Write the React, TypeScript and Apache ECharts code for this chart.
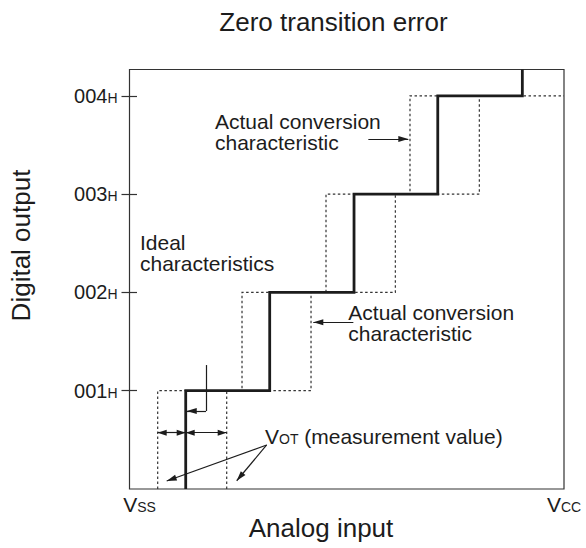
import React, { useEffect, useRef } from 'react';
import * as echarts from 'echarts';

// ---- texts ----
const TITLE = 'Zero transition error';
const X_AXIS_NAME = 'Analog input';
const Y_AXIS_NAME = 'Digital output';
const UPPER_NOTE = ['Actual conversion', 'characteristic'];
const IDEAL_NOTE = ['Ideal', 'characteristics'];
const LOWER_NOTE = ['Actual conversion', 'characteristic'];
const VOT_MAIN = 'V';
const VOT_SUB = 'OT';
const VOT_REST = ' (measurement value)';

// ---- axes ----
const Y_TICK_VALUES = [1, 2, 3, 4];
const Y_TICK_LABELS = ['001', '002', '003', '004'];
const Y_TICK_SUFFIX = 'H';
const X_LABEL_VALUES = [0, 5.163];
const X_LABEL_MAIN = ['V', 'V'];
const X_LABEL_SUB = ['SS', 'CC'];
const X_MAX = 5.163;
const Y_MAX = 4.268;

// ---- staircases (x position of each code transition, in LSB) ----
const ACTUAL_STEPS = [0.668, 1.666, 2.668, 3.663, 4.668];
const LEFT_DOTTED_STEPS = [0.335, 1.337, 2.335, 3.333];
const LEFT_DOTTED_END = 4.668;
const RIGHT_DOTTED_STEPS = [1.155, 2.157, 3.159, 4.157];
const RIGHT_DOTTED_END = 5.163;

// ---- annotation arrows (data coordinates) ----
const ARROW_UPPER = [[2.838, 3.561], [3.313, 3.561]];
const ARROW_LOWER = [[2.66, 1.696], [2.184, 1.696]];
const VOT_ARROWS = [
  [[1.63, 0.448], [0.442, 0.081]],
  [[1.63, 0.448], [1.274, 0.084]],
];
const L_ARROW = [[0.909, 1.261], [0.909, 0.793], [0.68, 0.793]];
const DIM_ARROWS = [
  [[0.335, 0.573], [0.668, 0.573]],
  [[0.668, 0.573], [1.155, 0.573]],
];

const INK = '#1c1c1c';
const FONT = '"Liberation Sans", Arial, Helvetica, sans-serif';

function stair(steps: number[], endX: number | null, topY: number) {
  const pts: number[][] = [];
  steps.forEach((x, i) => {
    pts.push([x, i]);
    pts.push([x, Math.min(i + 1, topY)]);
  });
  if (endX != null) pts.push([endX, steps.length]);
  return pts;
}

export default function App() {
  const ref = useRef<HTMLDivElement>(null);
  useEffect(() => {
    if (!ref.current) return;
    const chart = echarts.init(ref.current, undefined, { renderer: 'svg' });
    const tail = (c: number[]) => ({ coord: c, symbol: 'none' });
    const head = (c: number[]) => ({
      coord: c,
      symbol: 'triangle',
      symbolSize: [6, 10],
      symbolOffset: [0, 5],
    });
    const dimHead = (c: number[]) => ({
      coord: c,
      symbol: 'triangle',
      symbolSize: [6, 9],
      symbolOffset: [0, 4.5],
    });
    const option: any = {
      animation: false,
      backgroundColor: '#ffffff',
      grid: {
        left: 129.5,
        right: 22,
        top: 69.5,
        bottom: 59,
        show: true,
        borderColor: '#333',
        borderWidth: 1.2,
        containLabel: false,
      },
      xAxis: {
        type: 'value',
        min: 0,
        max: X_MAX,
        axisLine: { show: false },
        axisTick: { show: false },
        splitLine: { show: false },
        axisLabel: {
          customValues: X_LABEL_VALUES,
          margin: 5,
          formatter: (v: number) => {
            const i = X_LABEL_VALUES.indexOf(v);
            const pad = i === 0 ? '{pad| }' : '';
            return `${pad}{v|${X_LABEL_MAIN[i]}}{s|${X_LABEL_SUB[i]}}`;
          },
          rich: {
            pad: { width: 20, fontSize: 14 },
            v: { fontSize: 21, fontFamily: FONT, color: INK, verticalAlign: 'bottom', lineHeight: 21 },
            s: { fontSize: 14, fontFamily: FONT, color: INK, verticalAlign: 'bottom', lineHeight: 14, padding: [0, 0, 1, 0] },
          },
        },
      },
      yAxis: [
        {
          type: 'value',
          position: 'left',
          min: 0,
          max: Y_MAX,
          axisLine: { show: false },
          splitLine: { show: false },
          axisTick: {
            show: true,
            customValues: Y_TICK_VALUES,
            length: 8,
            inside: false,
            lineStyle: { color: '#333', width: 1.2 },
          },
          axisLabel: {
            customValues: Y_TICK_VALUES,
            margin: 12,
            formatter: (v: number) => {
              const i = Y_TICK_VALUES.indexOf(v);
              return `{n|${Y_TICK_LABELS[i]}}{h|${Y_TICK_SUFFIX}}`;
            },
            rich: {
              n: { fontSize: 20, fontFamily: FONT, color: INK, verticalAlign: 'bottom', lineHeight: 20 },
              h: { fontSize: 14, fontFamily: FONT, color: INK, verticalAlign: 'bottom', lineHeight: 14, padding: [0, 0, 1, 0] },
            },
          },
        },
        {
          type: 'value',
          position: 'left',
          min: 0,
          max: Y_MAX,
          axisLine: { show: false },
          splitLine: { show: false },
          axisLabel: { show: false },
          axisTick: {
            show: true,
            customValues: Y_TICK_VALUES,
            length: 7.5,
            inside: true,
            lineStyle: { color: '#333', width: 1.2 },
          },
        },
      ],
      series: [
        {
          name: 'left dotted',
          type: 'line',
          data: stair(LEFT_DOTTED_STEPS, LEFT_DOTTED_END, Y_MAX),
          showSymbol: false,
          symbol: 'none',
          silent: true,
          z: 1,
          lineStyle: { color: '#333', width: 1.2, type: [2.5, 2.5], join: 'miter', cap: 'butt' },
        },
        {
          name: 'right dotted',
          type: 'line',
          data: stair(RIGHT_DOTTED_STEPS, RIGHT_DOTTED_END, Y_MAX),
          showSymbol: false,
          symbol: 'none',
          silent: true,
          z: 1,
          lineStyle: { color: '#333', width: 1.2, type: [2.5, 2.5], join: 'miter', cap: 'butt' },
        },
        {
          name: 'actual',
          type: 'line',
          data: stair(ACTUAL_STEPS, null, Y_MAX),
          showSymbol: false,
          symbol: 'none',
          silent: true,
          z: 3,
          lineStyle: { color: INK, width: 2.8, join: 'miter', cap: 'butt' },
        },
        {
          name: 'arrows',
          type: 'line',
          data: [],
          silent: true,
          color: INK,
          z: 4,
          markLine: {
            silent: true,
            animation: false,
            symbol: ['none', 'none'],
            label: { show: false },
            emphasis: { disabled: true },
            lineStyle: { color: INK, width: 1.2, type: 'solid' },
            itemStyle: { color: INK },
            data: [
              [tail(ARROW_UPPER[0]), head(ARROW_UPPER[1])],
              [tail(ARROW_LOWER[0]), head(ARROW_LOWER[1])],
              ...VOT_ARROWS.map(([a, b]) => [tail(a), head(b)]),
              [tail(L_ARROW[0]), tail(L_ARROW[1])],
              [tail(L_ARROW[1]), head(L_ARROW[2])],
              ...DIM_ARROWS.map(([a, b]) => [dimHead(a), dimHead(b)]),
            ],
          },
        },
      ],
      graphic: [
        {
          type: 'text', x: 333.5, y: 21.5, silent: true,
          style: { text: TITLE, fontSize: 26, fontFamily: FONT, fill: INK, align: 'center', verticalAlign: 'middle' },
        },
        {
          type: 'text', x: 321, y: 528, silent: true,
          style: { text: X_AXIS_NAME, fontSize: 26, fontFamily: FONT, fill: INK, align: 'center', verticalAlign: 'middle' },
        },
        {
          type: 'text', x: 21, y: 245.5, rotation: Math.PI / 2, silent: true,
          style: { text: Y_AXIS_NAME, fontSize: 26, fontFamily: FONT, fill: INK, align: 'center', verticalAlign: 'middle' },
        },
        {
          type: 'text', x: 215, y: 110.5, silent: true,
          style: { text: UPPER_NOTE.join('\n'), fontSize: 21, lineHeight: 21, fontFamily: FONT, fill: INK, align: 'left', verticalAlign: 'top' },
        },
        {
          type: 'text', x: 140, y: 231.5, silent: true,
          style: { text: IDEAL_NOTE.join('\n'), fontSize: 21, lineHeight: 21, fontFamily: FONT, fill: INK, align: 'left', verticalAlign: 'top' },
        },
        {
          type: 'text', x: 348.3, y: 302, silent: true,
          style: { text: LOWER_NOTE.join('\n'), fontSize: 21, lineHeight: 21, fontFamily: FONT, fill: INK, align: 'left', verticalAlign: 'top' },
        },
        {
          type: 'text', x: 265, y: 436, silent: true,
          style: {
            text: `{v|${VOT_MAIN}}{s|${VOT_SUB}}{v|${VOT_REST}}`,
            align: 'left',
            verticalAlign: 'middle',
            rich: {
              v: { fontSize: 21, fontFamily: FONT, fill: INK, color: INK, verticalAlign: 'bottom', lineHeight: 21 },
              s: { fontSize: 14, fontFamily: FONT, fill: INK, color: INK, verticalAlign: 'bottom', lineHeight: 14, padding: [0, 0, 1, 0] },
            },
          },
        },
      ],
    };
    chart.setOption(option);
    return () => chart.dispose();
  }, []);
  return (
    <div
      ref={ref}
      style={{ position: 'fixed', left: 0, top: 0, width: 586, height: 548, background: '#fff' }}
    />
  );
}
